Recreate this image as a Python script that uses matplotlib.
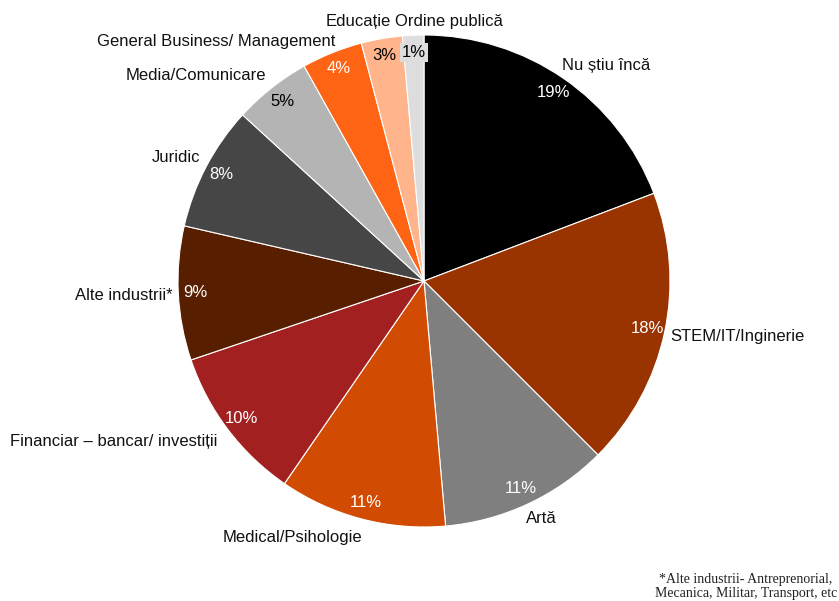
import matplotlib.pyplot as plt
import numpy as np

plt.rcParams['font.family'] = ['Liberation Sans', 'DejaVu Sans']

# data (clockwise from 12 o'clock)
categories = ['Nu știu încă', 'STEM/IT/Inginerie', 'Artă', 'Medical/Psihologie',
              'Financiar – bancar/ investiții', 'Alte industrii*', 'Juridic',
              'Media/Comunicare', 'General Business/ Management', 'Educație',
              'Ordine publică']
shares = [19.2, 18.3, 11.1, 11.0, 10.2, 8.8, 8.2, 5.1, 4.0, 2.7, 1.4]
pct_labels = ['19%', '18%', '11%', '11%', '10%', '9%', '8%', '5%', '4%', '3%', '1%']

colors = ['#000000', '#993300', '#7f7f7f', '#d24b02', '#a32020', '#571e00',
          '#464646', '#b4b4b4', '#fe6414', '#ffb48c', '#dddddd']
pct_colors = ['white', 'white', 'white', 'white', 'white', 'white', 'white',
              'black', 'white', 'black', 'black']

# label placement (data units, pie radius = 1) and alignment
label_xy = [(0.74, 0.874), (1.0, -0.224), (0.476, -0.967), (-0.533, -1.041),
            (-0.84, -0.654), (-1.02, -0.057), (-0.91, 0.50), (-0.64, 0.837),
            (-0.36, 0.972), (-0.268, 1.053), (0.102, 1.053)]
label_ha = ['center', 'left', 'center', 'center', 'right', 'right', 'right',
            'right', 'right', 'center', 'center']

fig = plt.figure(figsize=(8.39, 6.01), dpi=100, facecolor='white')
ax = fig.add_axes([0, 0, 1, 1])

wedges, _ = ax.pie(shares, colors=colors, startangle=90, counterclock=False,
                   radius=1.0,
                   wedgeprops=dict(edgecolor='white', linewidth=0.8))

for w, p, c in zip(wedges, pct_labels, pct_colors):
    mid = np.deg2rad((w.theta1 + w.theta2) / 2)
    x, y = 0.93 * np.cos(mid), 0.93 * np.sin(mid)
    box = None
    if p == '1%':
        box = dict(facecolor='#dddddd', edgecolor='none', pad=1.5)
    ax.text(x, y, p, ha='center', va='center', fontsize=12, color=c, bbox=box)

for name, (x, y), ha in zip(categories, label_xy, label_ha):
    ax.text(x, y, name, ha=ha, va='center', fontsize=12, color='#111111')

ax.set_xlim(-424 / 246, (839 - 424) / 246)
ax.set_ylim(-320 / 246, (601 - 320) / 246)
ax.set_aspect('auto')
ax.axis('off')

fig.text(0.889, 0.024, '*Alte industrii- Antreprenorial,\nMecanica, Militar, Transport, etc',
         ha='center', va='center', fontsize=10, family='Liberation Serif',
         color='#222222', linespacing=1.15)

fig.savefig('out.png', dpi=100, facecolor='white')
